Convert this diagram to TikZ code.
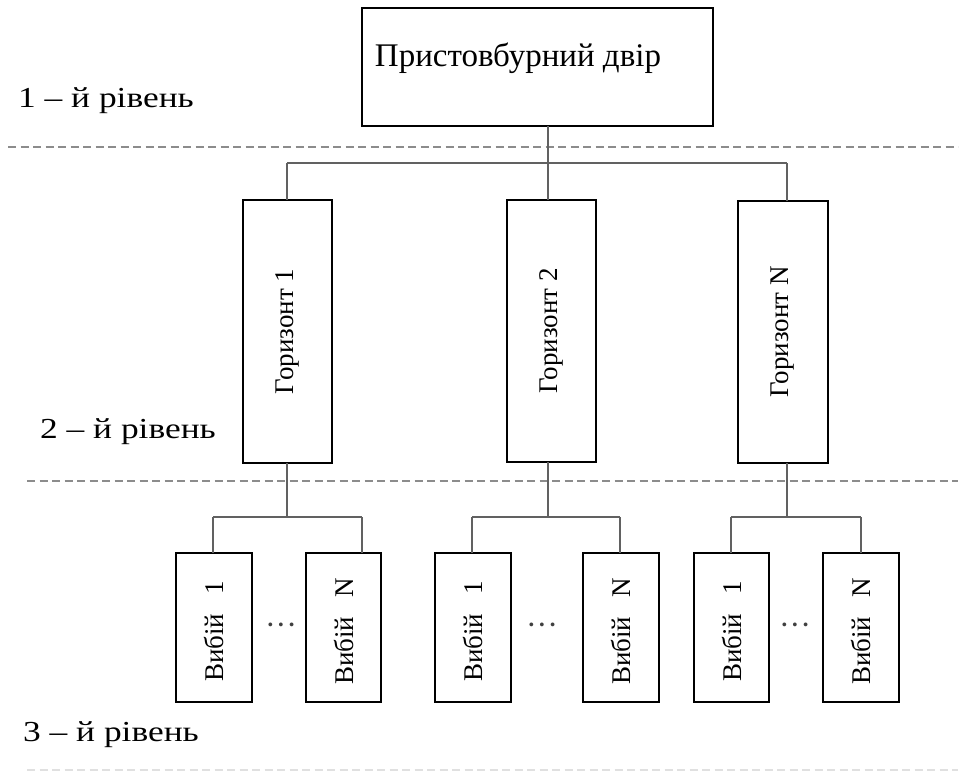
\documentclass[tikz,border=0pt]{standalone}
\usepackage{fontspec}
\setmainfont{Liberation Serif}
\newfontfamily\widefont[FakeStretch=1.22]{Liberation Serif}
\begin{document}
\begin{tikzpicture}[x=1pt,y=-1pt,
  boxn/.style={draw=black, line width=1.6pt, rectangle, inner sep=0pt, outer sep=0pt},
  conn/.style={draw=black!62, line width=2pt},
  lvlline/.style={draw=black!45, line width=2.6pt, dash pattern=on 8pt off 4.5pt},
  lvlfaint/.style={draw=black!12, line width=2.6pt, dash pattern=on 8pt off 4.5pt},
  lvltext/.style={anchor=west, inner sep=0pt, font=\widefont\fontsize{29}{31}\selectfont},
  vtext/.style={rotate=90, inner sep=0pt, font=\fontsize{27}{29}\selectfont},
  dots/.style={inner sep=0pt, text=black!75, font=\fontsize{32}{34}\selectfont}
]
\useasboundingbox (0,0) rectangle (963,774);
\fill[white] (0,0) rectangle (963,774);

% level lines
\draw[lvlline] (8,147) -- (958,147);
\draw[lvlline] (27,481) -- (958,481);
\draw[lvlfaint] (27,770) -- (958,770);

% level labels
\node[lvltext] (l1) at (18,101) {1 – й  рівень};
\node[lvltext] (l2) at (40,432) {2 – й  рівень};
\node[lvltext] (l3) at (23,735) {3 – й  рівень};

% top box
\node[boxn, minimum width=351pt, minimum height=118pt] (top) at (537.5,67) {};
\node[inner sep=0pt, font=\fontsize{33}{35}\selectfont] (toptext) at (518,58) {Пристовбурний двір};

% horizons
\node[boxn, minimum width=89pt, minimum height=263pt] (h1) at (287.5,331.5) {};
\node[boxn, minimum width=89pt, minimum height=262pt] (h2) at (551.5,331) {};
\node[boxn, minimum width=90pt, minimum height=262pt] (h3) at (783,332) {};
\node[vtext] (h1t) at (h1.center) {Горизонт 1};
\node[vtext] (h2t) at (h2.center) {Горизонт 2};
\node[vtext] (h3t) at (h3.center) {Горизонт N};

% trunk coordinates
\coordinate (b1) at (287,163);
\coordinate (b2) at (548,163);
\coordinate (b3) at (787,163);
\draw[conn] (top.south -| b2) -- (b2);
\draw[conn] (b1) -- (b3);
\draw[conn] (b1) -- (h1.north -| b1);
\draw[conn] (b2) -- (h2.north -| b2);
\draw[conn] (b3) -- (h3.north -| b3);

% vybii boxes
\node[boxn, minimum width=76pt, minimum height=149pt] (v11) at (214,627.5) {};
\node[boxn, minimum width=75pt, minimum height=149pt] (v1n) at (343.5,627.5) {};
\node[boxn, minimum width=76pt, minimum height=149pt] (v21) at (473,627.5) {};
\node[boxn, minimum width=76pt, minimum height=149pt] (v2n) at (621,627.5) {};
\node[boxn, minimum width=75pt, minimum height=149pt] (v31) at (731.5,627.5) {};
\node[boxn, minimum width=76pt, minimum height=149pt] (v3n) at (861,627.5) {};
\node[vtext] at ([yshift=-4pt]v11.center) {Вибій\hspace{0.7em}1};
\node[vtext] at ([yshift=-4pt]v1n.center) {Вибій\hspace{0.7em}N};
\node[vtext] at ([yshift=-4pt]v21.center) {Вибій\hspace{0.7em}1};
\node[vtext] at ([yshift=-4pt]v2n.center) {Вибій\hspace{0.7em}N};
\node[vtext] at ([yshift=-4pt]v31.center) {Вибій\hspace{0.7em}1};
\node[vtext] at ([yshift=-4pt]v3n.center) {Вибій\hspace{0.7em}N};

% dots
\node[dots] (d1) at (281,629) {···};
\node[dots] (d2) at (542,629) {···};
\node[dots] (d3) at (795,629) {···};

% sub buses
\coordinate (s1) at (287,517);
\coordinate (s2) at (548,517);
\coordinate (s3) at (787,517);
\coordinate (s1a) at (213,517);
\coordinate (s1b) at (362,517);
\coordinate (s2a) at (472,517);
\coordinate (s2b) at (620,517);
\coordinate (s3a) at (731,517);
\coordinate (s3b) at (861,517);
\draw[conn] (h1.south -| s1) -- (s1);
\draw[conn] (h2.south -| s2) -- (s2);
\draw[conn] (h3.south -| s3) -- (s3);
\draw[conn] (s1a) -- (s1b);
\draw[conn] (s2a) -- (s2b);
\draw[conn] (s3a) -- (s3b);
\draw[conn] (s1a) -- (v11.north -| s1a);
\draw[conn] (s1b) -- (v1n.north -| s1b);
\draw[conn] (s2a) -- (v21.north -| s2a);
\draw[conn] (s2b) -- (v2n.north -| s2b);
\draw[conn] (s3a) -- (v31.north -| s3a);
\draw[conn] (s3b) -- (v3n.north -| s3b);
\end{tikzpicture}
\end{document}
